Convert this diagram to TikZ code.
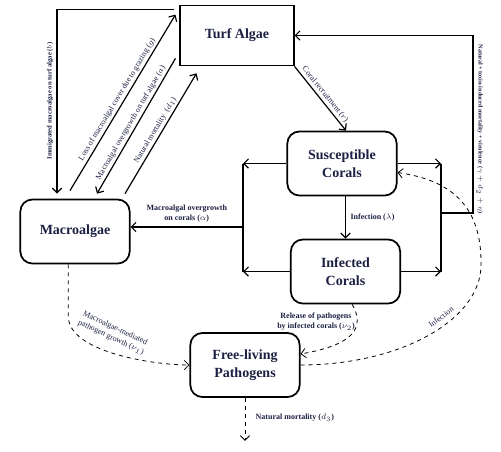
\documentclass[tikz,border=0pt]{standalone}
\usepackage{fontspec}
\setmainfont{Liberation Serif}
\usetikzlibrary{arrows.meta}
\definecolor{ink}{RGB}{28,32,66}

\begin{document}
\begin{tikzpicture}[x=0.75pt,y=-0.75pt,
  box/.style={draw,line width=1.3pt,rounded corners=9pt,minimum width=82pt,minimum height=48pt,align=center,text=ink,font=\fontsize{10.5}{13.5}\selectfont\bfseries},
  arr/.style={-{Straight Barb[length=3.5pt,width=7pt]},line width=0.9pt},
  backarr/.style={{Straight Barb[length=3.5pt,width=7pt]}-,line width=0.9pt},
  dasharr/.style={-{Straight Barb[length=3.5pt,width=7pt]},dashed,line width=0.6pt},
  lbl/.style={font=\fontsize{6}{7.5}\selectfont\bfseries,text=ink,align=center},
  slbl/.style={font=\fontsize{6}{7.5}\selectfont,text=ink,align=center,inner sep=1.5pt}]
\useasboundingbox (0,0) rectangle (501,451);

\node[box,sharp corners,minimum width=85pt,minimum height=45pt] (turf) at (237,35.5) {Turf Algae};
\node[box] (macro) at (75,231.5) {Macroalgae};
\node[box] (sus) at (342,163.5) {Susceptible\\Corals};
\node[box] (inf) at (345.5,271.5) {Infected\\Corals};
\node[box] (pat) at (245,365) {Free-living\\Pathogens};

% turf algae <-> macroalgae
\draw[arr] ([shift={(-5,5)}]turf.north west) -| ([shift={(-18,-5)}]macro.north);
\node[lbl,font=\fontsize{5}{6}\selectfont\bfseries,rotate=90] at (50,101) {Immigrated macroalgae on turf algae ($b$)};
\draw[arr] ([shift={(-5,-8)}]macro.north) -- node[slbl,sloped,above]{Loss of macroalgal cover due to grazing ($g$)} ([shift={(-4,10)}]turf.north west);
\draw[backarr] ([shift={(22,-5)}]macro.north) -- node[slbl,sloped,above]{Macroalgal overgrowth on turf algae ($a$)} ([shift={(-4,-8)}]turf.south west);
\draw[arr] ([shift={(50,-5)}]macro.north) -- node[slbl,sloped,above]{Natural mortality ~($d_1$)} ([shift={(17,7)}]turf.south west);

\draw[arr] (turf.south east) -- node[slbl,sloped,above]{Coral recruitment ($r$)} ([xshift=3]sus.north);
\draw[arr] (inf.north |- sus.south) -- node[lbl,right]{Infection ($\lambda$)} (inf.north);

% right loop back to turf algae
\coordinate (rtop) at (441,163.5);
\coordinate (rbot) at (inf.east -| rtop);
\coordinate (rmid) at (441,213);
\coordinate (rfar) at (473,213);
\draw[arr] (sus.east) -- (rtop);
\draw[arr] (inf.east) -- (rbot);
\draw[line width=0.9pt] (rtop) -- (rbot);
\draw[arr] (rmid) -- (rfar) |- (turf.east);
\node[lbl,font=\fontsize{4.6}{5}\selectfont\bfseries,rotate=-90] at (480,129) {Natural + toxin-induced mortality + virulence ($\gamma + d_2 + \eta$)};

% left loop to macroalgae
\coordinate (ltop) at (243,163.5);
\coordinate (lbot) at (inf.west -| ltop);
\coordinate (lmid) at (243,227);
\draw[arr] (sus.west) -- (ltop);
\draw[arr] (inf.west) -- (lbot);
\draw[line width=0.9pt] (ltop) -- (lbot);
\draw[arr] (lmid) -- node[lbl,above]{Macroalgal overgrowth\\on corals ($\alpha$)} (lmid -| macro.east);

% pathogens
\draw[dasharr] ([xshift=-5]macro.south) -- ++(0,52) to[out=-90,in=180,looseness=0.7] (pat.west);
\node[slbl,rotate=-25] at (113,333) {Macroalgae-mediated\\pathogen growth ($\nu_1$)};
\draw[dasharr] ([xshift=5]inf.south) to[out=-60,in=10,looseness=1.3] ([shift={(0,-11)}]pat.east);
\node[lbl] at (316,322) {Release of pathogens\\by infected corals ($\nu_2$)};
\draw[dasharr] (pat.east) .. controls (400,365) and (481,320) .. (481,265) .. controls (482,205) and (450,180) .. ([shift={(0,9)}]sus.east);
\node[slbl,rotate=37] at (441,317) {Infection};
\draw[dasharr] (pat.south) -- ++(0,43);
\node[lbl,anchor=west] at (251,418) {Natural mortality ($d_3$)};

\end{tikzpicture}
\end{document}
